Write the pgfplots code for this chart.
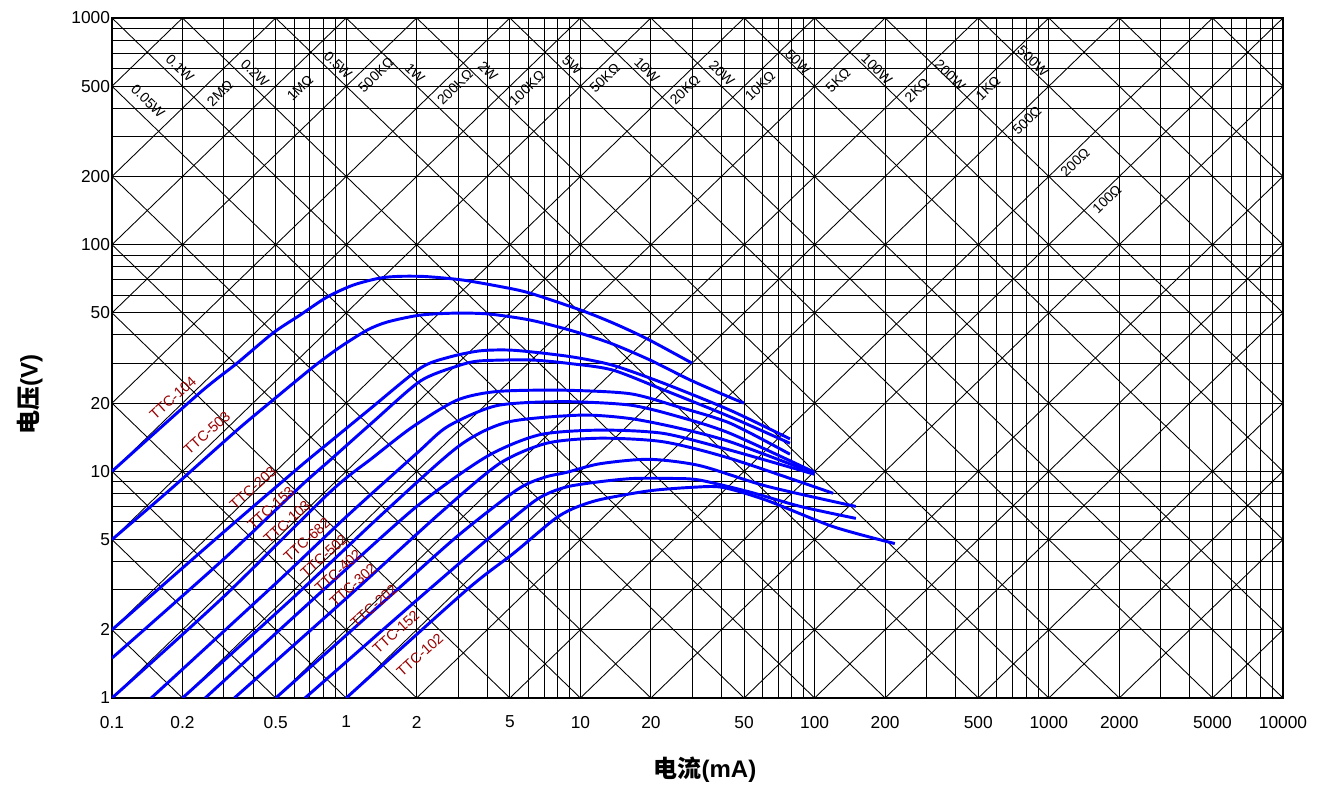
\documentclass[border=0pt]{standalone}
\usepackage{fontspec}
\setmainfont{Liberation Sans}
\newfontfamily\cjk{Noto Sans CJK SC}
\usepackage{pgfplots}
\pgfplotsset{compat=1.18}

\definecolor{curve}{RGB}{0,0,255}
\definecolor{lbl}{RGB}{153,0,0}
\newcommand{\glab}{\fontsize{10.5}{12}\selectfont}
\newcommand{\tlab}{\fontsize{10.8}{12}\selectfont}
% one straight diagonal (constant power or constant resistance)
\newcommand{\seg}[4]{\addplot[diag] coordinates {(#1,#2) (#3,#4)};}

\begin{document}
\begin{tikzpicture}
\begin{axis}[
  scale only axis, width=878.25pt, height=510pt,
  xmode=log, ymode=log,
  xmin=0.1, xmax=10000, ymin=1, ymax=1000,
  xtick={0.1,0.2,0.5,1,2,5,10,20,50,100,200,500,1000,2000,5000,10000},
  xticklabels={0.1,0.2,0.5,1,2,5,10,20,50,100,200,500,1000,2000,5000,10000},
  minor xtick={0.3,0.4,0.6,0.7,0.8,0.9,3,4,6,7,8,9,30,40,60,70,80,90,300,400,600,700,800,900,3000,4000,6000,7000,8000,9000},
  ytick={1,2,5,10,20,50,100,200,500,1000},
  yticklabels={1,2,5,10,20,50,100,200,500,1000},
  minor ytick={3,4,6,7,8,9,30,40,60,70,80,90,300,400,600,700,800,900},
  grid=both,
  major grid style={black, line width=0.65pt},
  minor grid style={black, line width=0.65pt},
  tick style={draw=none},
  axis line style={black, line width=1.1pt},
  ticklabel style={font=\fontsize{13}{15}\selectfont},
  xticklabel style={yshift=-10pt},
  yticklabel style={xshift=2pt},
  diag/.style={black, line width=0.65pt, forget plot},
  tc/.style={curve, line width=2.2pt, smooth, tension=0.45, forget plot},
]
% constant power lines, V*I = c (mW)
\seg{0.1}{2}{10000}{2e-5}
\seg{0.1}{5}{10000}{5e-5}
\seg{0.1}{10}{10000}{1e-4}
\seg{0.1}{20}{10000}{2e-4}
\seg{0.1}{50}{10000}{5e-4}
\seg{0.1}{100}{10000}{0.001}
\seg{0.1}{200}{10000}{0.002}
\seg{0.1}{500}{10000}{0.005}
\seg{0.1}{1000}{10000}{0.01}
\seg{0.1}{2000}{10000}{0.02}
\seg{0.1}{5000}{10000}{0.05}
\seg{0.1}{10000}{10000}{0.1}
\seg{0.1}{20000}{10000}{0.2}
\seg{0.1}{50000}{10000}{0.5}
\seg{0.1}{1e5}{10000}{1}
\seg{0.1}{2e5}{10000}{2}
\seg{0.1}{5e5}{10000}{5}
\seg{0.1}{1e6}{10000}{10}
\seg{0.1}{2e6}{10000}{20}
\seg{0.1}{5e6}{10000}{50}
\seg{0.1}{1e7}{10000}{100}
\seg{0.1}{2e7}{10000}{200}
\seg{0.1}{5e7}{10000}{500}
% constant resistance lines, V = R*I (kOhm)
\seg{0.1}{2e-5}{10000}{2}
\seg{0.1}{5e-5}{10000}{5}
\seg{0.1}{1e-4}{10000}{10}
\seg{0.1}{2e-4}{10000}{20}
\seg{0.1}{5e-4}{10000}{50}
\seg{0.1}{0.001}{10000}{100}
\seg{0.1}{0.002}{10000}{200}
\seg{0.1}{0.005}{10000}{500}
\seg{0.1}{0.01}{10000}{1000}
\seg{0.1}{0.02}{10000}{2000}
\seg{0.1}{0.05}{10000}{5000}
\seg{0.1}{0.1}{10000}{1e4}
\seg{0.1}{0.2}{10000}{2e4}
\seg{0.1}{0.5}{10000}{5e4}
\seg{0.1}{1}{10000}{1e5}
\seg{0.1}{2}{10000}{2e5}
\seg{0.1}{5}{10000}{5e5}
\seg{0.1}{10}{10000}{1e6}
\seg{0.1}{20}{10000}{2e6}
\seg{0.1}{50}{10000}{5e6}
\seg{0.1}{100}{10000}{1e7}
\seg{0.1}{200}{10000}{2e7}
\seg{0.1}{500}{10000}{5e7}

% V-I curves
\addplot[tc] coordinates {(0.1,10) (0.237,22.2) (0.342,30) (0.486,40.7) (0.635,48.9) (0.828,58.7) (1.07,66.3) (1.39,71.2) (1.7,72.5) (2.2,72.3) (3.15,69.8) (4.67,65) (6.1,61.1) (10,51.5) (13.8,45.1) (19.2,38.5) (30,30)};
\addplot[tc] coordinates {(0.1,5) (0.177,8.3) (0.342,15.2) (0.486,20.6) (0.721,28.8) (0.94,35.3) (1.23,42) (1.5,45.6) (2.07,48.9) (2.97,49.9) (4.1,49.4) (6.1,46.5) (9,42) (13.4,36.8) (19.8,31) (29.4,25.3) (43.5,21.2) (50,20)};
\addplot[tc] coordinates {(0.1,2) (0.3,5.4) (0.635,10.5) (0.853,13.5) (1.26,18.8) (2.07,28.5) (2.72,31.8) (3.72,34) (5.2,34.2) (9,32.1) (13.7,29.4) (22.6,24.5) (43.6,18.6) (78.5,13.9)};
\addplot[tc] coordinates {(0.1,1.5) (0.3,4.1) (0.635,8.55) (0.853,11.2) (1.3,16.5) (2.07,25) (2.97,29.1) (3.72,30.7) (6.1,31) (9,29.9) (13.7,28) (22.6,22.9) (43.6,17.4) (78.5,13.3)};
\addplot[tc] coordinates {(0.1,1) (0.3,2.8) (0.853,8.1) (1.3,11.5) (1.92,15.7) (2.97,20.6) (4.4,22.5) (8.4,22.8) (16.3,22) (26.4,19.2) (43.6,16.3) (78.5,11.9)};
\addplot[tc] coordinates {(0.147,1) (0.5,3.2) (1,6.3) (2,12) (2.72,15.8) (4.4,19.5) (8.4,20.3) (16.3,19.6) (26.4,17.4) (43.6,14.7) (100,9.9)};
\addplot[tc] coordinates {(0.2,1) (0.6,2.8) (1.5,6.8) (3.05,13) (4.9,16.5) (10,17.7) (16.3,17.1) (26.4,15.5) (43.6,13.5) (100,9.8)};
\addplot[tc] coordinates {(0.25,1) (0.8,3) (2,7) (3.97,11.6) (6.7,14.5) (12.1,15.2) (22.6,14.7) (43.6,12.4) (100,9.7)};
\addplot[tc] coordinates {(0.333,1) (1,2.75) (2.5,6.5) (4.5,10.8) (7.17,13.3) (12.1,14) (22.6,13.5) (43.6,11.4) (120,8)};
\addplot[tc] coordinates {(0.5,1) (1.5,2.75) (3,5.2) (5.37,8.3) (7,9.4) (8.75,9.9) (12.1,10.8) (19.6,11.3) (32.3,10.6) (62.4,8.6) (150,7)};
\addplot[tc] coordinates {(0.667,1) (2,2.7) (4,5) (6.26,7.3) (7.5,8.1) (9,8.6) (12.1,9) (16.8,9.3) (25,9.3) (32.3,9.15) (53,8.1) (87,7) (150,6.2)};
\addplot[tc] coordinates {(1,1) (3.27,3) (5.17,4.34) (7.67,6.1) (9.3,6.85) (12.1,7.5) (19.6,8.2) (30,8.5) (40.4,8.5) (62.4,7.45) (120,5.7) (220,4.8)};

% power line labels
\node[rotate=-44, font=\glab] at (axis cs:0.1425,430) {0.05W};
\node[rotate=-44, font=\glab] at (axis cs:0.195,601) {0.1W};
\node[rotate=-44, font=\glab] at (axis cs:0.408,571) {0.2W};
\node[rotate=-44, font=\glab] at (axis cs:0.923,620) {0.5W};
\node[rotate=-44, font=\glab] at (axis cs:1.967,571) {1W};
\node[rotate=-44, font=\glab] at (axis cs:4.03,583) {2W};
\node[rotate=-44, font=\glab] at (axis cs:9.21,620) {5W};
\node[rotate=-44, font=\glab] at (axis cs:19.25,589) {10W};
\node[rotate=-44, font=\glab] at (axis cs:40.2,571) {20W};
\node[rotate=-44, font=\glab] at (axis cs:84.9,639) {50W};
\node[rotate=-44, font=\glab] at (axis cs:184.6,595) {100W};
\node[rotate=-44, font=\glab] at (axis cs:378.6,560) {200W};
\node[rotate=-44, font=\glab] at (axis cs:856,645) {500W};
% resistance line labels
\node[rotate=44, font=\glab] at (axis cs:0.289,466) {2MΩ};
\node[rotate=44, font=\glab] at (axis cs:0.635,491) {1MΩ};
\node[rotate=44, font=\glab] at (axis cs:1.341,560) {500KΩ};
\node[rotate=44, font=\glab] at (axis cs:2.914,496) {200KΩ};
\node[rotate=44, font=\glab] at (axis cs:5.92,491) {100KΩ};
\node[rotate=44, font=\glab] at (axis cs:12.7,543) {50KΩ};
\node[rotate=44, font=\glab] at (axis cs:27.97,481) {20KΩ};
\node[rotate=44, font=\glab] at (axis cs:58.5,501) {10KΩ};
\node[rotate=44, font=\glab] at (axis cs:125.9,532) {5KΩ};
\node[rotate=44, font=\glab] at (axis cs:273.6,481) {2KΩ};
\node[rotate=44, font=\glab] at (axis cs:550,491) {1KΩ};
\node[rotate=44, font=\glab] at (axis cs:807,354) {500Ω};
\node[rotate=44, font=\glab] at (axis cs:1294,231) {200Ω};
\node[rotate=44, font=\glab] at (axis cs:1772,159) {100Ω};
% curve labels
\node[rotate=42, font=\tlab, text=lbl] at (axis cs:0.182,21.05) {TTC-104};
\node[rotate=42, font=\tlab, text=lbl] at (axis cs:0.2544,14.76) {TTC-503};
\node[rotate=42, font=\tlab, text=lbl] at (axis cs:0.4,8.44) {TTC-203};
\node[rotate=42, font=\tlab, text=lbl] at (axis cs:0.4774,6.89) {TTC-153};
\node[rotate=42, font=\tlab, text=lbl] at (axis cs:0.5587,5.97) {TTC-103};
\node[rotate=42, font=\tlab, text=lbl] at (axis cs:0.68,4.98) {TTC-682};
\node[rotate=42, font=\tlab, text=lbl] at (axis cs:0.804,4.23) {TTC-502};
\node[rotate=42, font=\tlab, text=lbl] at (axis cs:0.923,3.63) {TTC-402};
\node[rotate=42, font=\tlab, text=lbl] at (axis cs:1.069,3.15) {TTC-302};
\node[rotate=42, font=\tlab, text=lbl] at (axis cs:1.314,2.546) {TTC-202};
\node[rotate=42, font=\tlab, text=lbl] at (axis cs:1.632,1.955) {TTC-152};
\node[rotate=42, font=\tlab, text=lbl] at (axis cs:2.066,1.548) {TTC-102};

\coordinate (SW) at (rel axis cs:0,0);
\coordinate (NE) at (rel axis cs:1,1);
\coordinate (XL) at (rel axis cs:0.5064,-0.1059);
\coordinate (YL) at (rel axis cs:-0.070,0.4456);
\end{axis}
\node[font=\fontsize{18}{20}\selectfont\bfseries] at (XL) {{\cjk 电流}(mA)};
\node[rotate=90, font=\fontsize{18}{20}\selectfont\bfseries] at (YL) {{\cjk 电压}(V)};
\pgfresetboundingbox
\path[use as bounding box] ([shift={(-84pt,-65.25pt)}]SW) rectangle ([shift={(30.75pt,13.5pt)}]NE);
\end{tikzpicture}
\end{document}
